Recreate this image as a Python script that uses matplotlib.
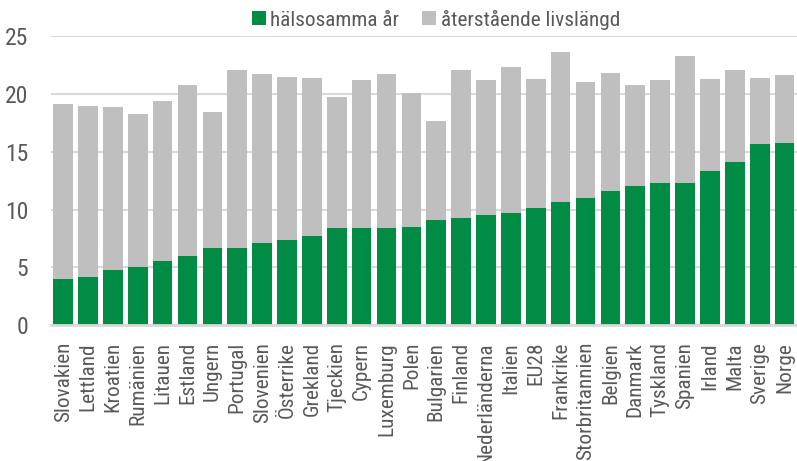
import matplotlib
matplotlib.use("Agg")
import matplotlib.pyplot as plt
from matplotlib import font_manager as fm
from matplotlib.patches import Patch

countries = ["Slovakien", "Lettland", "Kroatien", "Rumänien", "Litauen", "Estland",
             "Ungern", "Portugal", "Slovenien", "Österrike", "Grekland", "Tjeckien",
             "Cypern", "Luxemburg", "Polen", "Bulgarien", "Finland", "Nederländerna",
             "Italien", "EU28", "Frankrike", "Storbritannien", "Belgien", "Danmark",
             "Tyskland", "Spanien", "Irland", "Malta", "Sverige", "Norge"]
healthy = [4.0, 4.2, 4.8, 5.0, 5.6, 6.0, 6.7, 6.7, 7.1, 7.4, 7.7, 8.4, 8.4, 8.4, 8.5,
           9.1, 9.3, 9.5, 9.7, 10.1, 10.7, 11.0, 11.6, 12.0, 12.3, 12.3, 13.3, 14.1,
           15.7, 15.8]
remaining = [15.1, 14.8, 14.1, 13.3, 13.8, 14.8, 11.7, 15.4, 14.6, 14.1, 13.7, 11.3,
             12.8, 13.3, 11.6, 8.6, 12.8, 11.7, 12.6, 11.2, 12.9, 10.0, 10.2, 8.8,
             8.9, 11.0, 8.0, 8.0, 5.7, 5.8]
series_labels = ["hälsosamma år", "återstående livslängd"]
yticks = [0, 5, 10, 15, 20, 25]

names = {f.name for f in fm.fontManager.ttflist}
stretch = "normal"
if "Roboto Condensed" in names:
    fam = "Roboto Condensed"
elif "Liberation Sans Narrow" in names:
    fam = "Liberation Sans Narrow"
else:
    fam = "DejaVu Sans"
    stretch = "condensed"
plt.rcParams["font.family"] = [fam, "DejaVu Sans"]
plt.rcParams["font.stretch"] = stretch

GREEN = "#008C45"
GRAY = "#BFBFBF"
TXT = "#595959"
GRID = "#D9D9D9"

fig = plt.figure(figsize=(7.97, 4.61), dpi=100)
ax = fig.add_axes([0.0636, 0.2944, 1.0 - 0.0636, 0.9217 - 0.2944])

x = list(range(len(countries)))
ax.bar(x, healthy, width=0.79, color=GREEN, zorder=3)
ax.bar(x, remaining, width=0.79, bottom=healthy, color=GRAY, zorder=3)

ax.set_xlim(-0.5, len(countries) - 0.5)
ax.set_ylim(0, 25)
ax.set_yticks(yticks)
ax.set_yticklabels([str(v) for v in yticks], fontsize=17, color=TXT)
ax.set_xticks(x)
ax.set_xticklabels(countries, rotation=90, fontsize=15.3, color=TXT, va="top")
ax.tick_params(axis="both", length=0)
ax.tick_params(axis="y", pad=16)
ax.tick_params(axis="x", pad=12)

ax.yaxis.grid(True, color=GRID, linewidth=1.5, zorder=0)
ax.set_axisbelow(True)
for s in ["top", "right", "left"]:
    ax.spines[s].set_visible(False)
ax.spines["bottom"].set_color(GRID)
ax.spines["bottom"].set_linewidth(2)
ax.spines["bottom"].set_zorder(4)

handles = [Patch(facecolor=GREEN), Patch(facecolor=GRAY)]
leg = fig.legend(handles, series_labels, loc="center", bbox_to_anchor=(0.547, 0.957),
                 ncol=2, frameon=False, fontsize=15.3, handlelength=0.65, handleheight=0.65,
                 handletextpad=0.2, columnspacing=1.1, borderaxespad=0)
for t in leg.get_texts():
    t.set_color(TXT)

fig.savefig("out.png", dpi=100)
